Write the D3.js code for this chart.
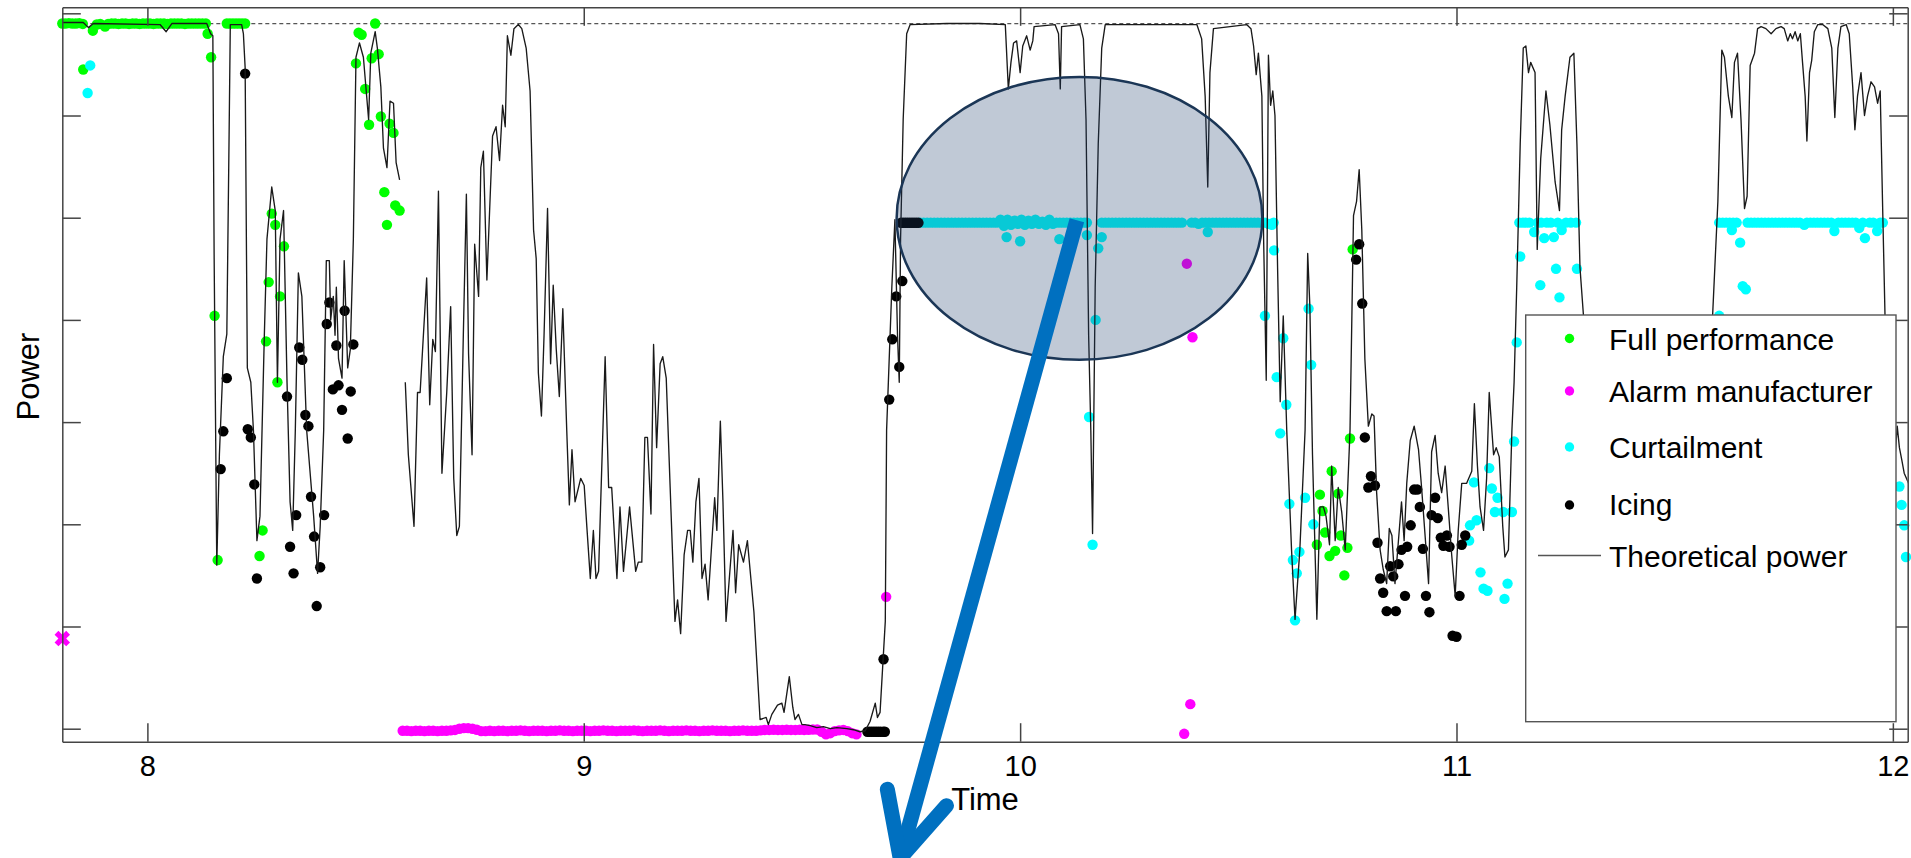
<!DOCTYPE html>
<html>
<head>
<meta charset="utf-8">
<script src="https://cdn.jsdelivr.net/npm/d3@7"></script>
<style>
  body { margin: 0; background: #fff; }
  svg { display: block; }
  text { font-family: "Liberation Sans", Arial, sans-serif; fill: #000; }
</style>
</head>
<body>
<svg id="chart" width="1911" height="858"></svg>
<script>
// time in hours, power in kW (rated 3450 kW)
const xTicks = [8, 9, 10, 11, 12];
const yTicks = [0, 500, 1000, 1500, 2000, 2500, 3000, 3500];
const ratedPower = 3450;

const theoretical = [
  [7.805,3455],[7.853,3455],[7.865,3430],[7.876,3450],[8.029,3445],[8.043,3410],[8.056,3450],[8.136,3450],[8.145,3400],[8.150,3390],
  [8.153,2300],[8.159,800],[8.165,1340],[8.174,1820],[8.182,1930],[8.187,2860],[8.190,3445],[8.216,3445],[8.220,3400],[8.224,3235],
  [8.229,1765],[8.237,1695],[8.243,1460],[8.251,920],[8.258,1040],[8.268,1925],[8.274,2395],[8.285,2650],[8.293,2535],[8.298,1695],
  [8.304,2395],[8.312,2535],[8.320,1695],[8.327,1110],[8.333,970],[8.339,1460],[8.346,2230],[8.354,2115],[8.365,1460],[8.381,1040],
  [8.390,760],[8.396,990],[8.404,1460],[8.410,2290],[8.417,2290],[8.420,2000],[8.426,2115],[8.430,1925],[8.433,2160],[8.438,1810],
  [8.446,1715],[8.451,2290],[8.459,1765],[8.465,1855],[8.472,2395],[8.478,3285],[8.486,3355],[8.495,3285],[8.507,2980],[8.512,3305],
  [8.522,3410],[8.527,3330],[8.535,3140],[8.541,2840],[8.549,2745],[8.556,3070],[8.564,3060],[8.570,2770],[8.578,2685],
  null,
  [8.591,1695],[8.598,1340],[8.611,990],[8.619,1645],[8.625,1645],[8.640,2205],[8.647,1585],[8.654,1905],[8.660,1845],[8.667,2630],
  [8.675,1250],[8.686,1645],[8.695,2065],[8.702,1225],[8.709,945],[8.715,990],[8.724,1925],[8.731,2615],[8.736,1835],[8.744,1340],
  [8.750,2370],[8.759,2115],[8.764,2745],[8.770,2825],[8.778,2195],[8.791,2900],[8.799,2945],[8.807,2780],[8.814,3050],[8.820,2945],
  [8.825,3390],[8.833,3295],[8.840,3425],[8.850,3445],[8.858,3425],[8.868,3330],[8.877,3120],[8.885,2440],[8.891,2300],[8.896,1740],
  [8.903,1530],[8.909,1925],[8.917,2545],[8.924,1785],[8.930,2170],[8.937,1855],[8.944,1625],[8.952,2055],[8.961,1460],[8.967,1095],
  [8.973,1365],[8.980,1110],[8.993,1225],[9.001,1190],[9.007,990],[9.015,735],[9.022,970],[9.028,735],[9.034,770],[9.049,1820],
  [9.057,1180],[9.064,1180],[9.076,735],[9.083,1085],[9.091,770],[9.105,1085],[9.119,770],[9.125,815],[9.133,815],[9.140,1425],
  [9.146,1425],[9.154,1050],[9.160,1880],[9.167,1375],[9.175,1785],[9.181,1820],[9.189,1715],[9.198,1180],[9.209,525],[9.215,630],
  [9.222,465],[9.230,850],[9.238,970],[9.244,970],[9.250,815],[9.257,1110],[9.264,1225],[9.271,735],[9.278,805],[9.285,630],
  [9.300,1130],[9.305,970],[9.313,1505],[9.319,1110],[9.326,525],[9.342,970],[9.348,665],[9.355,900],[9.366,815],[9.375,920],
  [9.390,570],[9.404,45],[9.418,55],[9.423,20],[9.431,70],[9.444,115],[9.454,125],[9.459,80],[9.471,255],[9.479,105],
  [9.484,45],[9.492,70],[9.500,20],[9.507,20],[9.519,15],[9.534,5],[9.549,10],[9.565,0],[9.580,5],[9.603,0],
  [9.618,-5],[9.633,-15],[9.645,-10],[9.656,35],[9.668,125],[9.673,55],[9.679,80],[9.691,525],[9.694,1460],[9.706,2160],
  [9.713,2490],[9.719,1925],[9.723,1695],[9.726,2395],[9.732,2980],[9.740,3400],[9.748,3445],[9.832,3450],[9.908,3450],[9.966,3445],
  [9.973,3130],[9.979,3260],[9.985,3355],[9.992,3365],[10.000,3210],[10.006,3340],[10.015,3390],[10.023,3320],[10.029,3365],[10.032,3435],
  [10.080,3445],[10.088,3400],[10.092,3130],[10.095,3435],[10.137,3445],[10.145,3375],[10.151,2980],[10.157,1925],[10.162,1460],[10.166,955],
  [10.172,2160],[10.179,2860],[10.187,3330],[10.195,3445],[10.405,3445],[10.416,3375],[10.424,3095],[10.430,2650],[10.435,3210],[10.443,3425],
  [10.519,3445],[10.529,3425],[10.535,3340],[10.541,3200],[10.546,3305],[10.554,3095],[10.558,2395],[10.564,1705],[10.569,3295],[10.574,3050],
  [10.579,3120],[10.584,3000],[10.590,2255],[10.596,1600],[10.603,2020],[10.611,1460],[10.622,875],[10.630,535],[10.641,875],[10.653,1460],
  [10.659,2325],[10.664,2065],[10.670,1340],[10.680,535],[10.687,1085],[10.695,1085],[10.701,1040],[10.709,900],[10.714,1285],[10.722,920],
  [10.729,1180],[10.737,1060],[10.745,875],[10.756,1460],[10.764,2510],[10.771,2580],[10.777,2735],[10.783,2440],[10.790,1810],[10.798,1480],
  [10.806,1540],[10.811,1530],[10.817,1155],[10.825,875],[10.832,780],[10.840,710],[10.846,980],[10.852,945],[10.859,710],[10.864,840],
  [10.874,1110],[10.880,920],[10.886,1200],[10.894,1410],[10.903,1480],[10.913,1365],[10.920,1180],[10.928,945],[10.936,710],[10.943,1355],
  [10.951,1435],[10.958,1250],[10.966,1155],[10.974,1285],[10.981,1085],[10.989,850],[10.997,650],[11.004,970],[11.012,1200],[11.023,1200],
  [11.035,1260],[11.041,1590],[11.048,1285],[11.054,1085],[11.062,970],[11.069,1225],[11.075,1645],[11.085,1340],[11.091,1375],[11.098,1330],
  [11.106,990],[11.111,840],[11.119,875],[11.127,1460],[11.132,1695],[11.138,2160],[11.146,2860],[11.153,3330],[11.159,3340],[11.165,3210],
  [11.170,3260],[11.180,3210],[11.185,2345],[11.193,2790],[11.205,3120],[11.214,2955],[11.226,2675],[11.236,2535],[11.241,2930],[11.249,3095],
  [11.260,3285],[11.269,3305],[11.276,2860],[11.283,2255],[11.291,2020],[11.310,1500],[11.350,900],[11.400,1300],[11.450,800],[11.500,1200],
  [11.550,1600],[11.587,2025],[11.599,2580],[11.608,3320],[11.614,3285],[11.623,3095],[11.631,2990],[11.637,3260],[11.644,3305],[11.652,2980],
  [11.660,2545],[11.666,2605],[11.673,3245],[11.683,3305],[11.690,3425],[11.698,3435],[11.709,3425],[11.721,3400],[11.732,3425],[11.744,3435],
  [11.751,3425],[11.759,3365],[11.765,3400],[11.770,3375],[11.776,3410],[11.782,3365],[11.788,3400],[11.793,3260],[11.799,3095],[11.803,2875],
  [11.809,3210],[11.814,3270],[11.820,3410],[11.828,3445],[11.839,3445],[11.851,3425],[11.860,3330],[11.867,2990],[11.874,3330],[11.881,3435],
  [11.893,3445],[11.900,3400],[11.908,3140],[11.913,2930],[11.919,3095],[11.927,3210],[11.935,3000],[11.942,3095],[11.950,3165],[11.958,3140],
  [11.965,3060],[11.971,3120],[11.977,2510],[11.982,2020],[11.995,1500],[12.004,1300],[12.010,1480],[12.015,1375],[12.020,1320],[12.026,1250],
  [12.033,1215],[12.040,1180]
];

const fullPerformance = [
  [7.805,3450],[7.812,3450],[7.820,3452],[7.828,3450],[7.836,3450],[7.844,3452],[7.852,3448],[7.875,3415],[7.884,3445],[7.892,3448],
  [7.903,3435],[7.910,3448],[7.918,3450],[7.926,3450],[7.934,3448],[7.942,3450],[7.950,3450],[7.958,3448],[7.966,3450],[7.974,3450],
  [7.982,3448],[7.990,3450],[7.998,3450],[8.006,3450],[8.014,3448],[8.022,3450],[8.030,3450],[8.038,3450],[8.046,3448],[8.054,3450],
  [8.062,3450],[8.070,3450],[8.078,3450],[8.086,3448],[8.094,3450],[8.102,3450],[8.110,3450],[8.118,3450],[8.126,3450],[8.134,3450],
  [8.138,3400],[8.146,3285],[7.853,3225],
  [8.182,3450],[8.189,3450],[8.196,3450],[8.203,3450],[8.210,3450],[8.217,3450],[8.224,3450],
  [8.154,2020],[8.161,825],[8.257,845],[8.264,970],[8.272,1895],[8.278,2185],[8.285,2520],[8.293,2465],[8.298,1695],[8.304,2115],
  [8.313,2360],[8.478,3255],[8.484,3405],[8.491,3395],[8.499,3130],[8.508,2955],[8.514,3280],[8.522,3450],[8.530,3300],[8.535,2995],
  [8.555,2960],[8.564,2915],[8.543,2625],[8.568,2560],[8.578,2535],[8.549,2465],
  [10.762,2345],[10.756,1420],[10.687,1145],[10.693,1065],[10.699,960],[10.680,900],[10.714,1260],[10.729,1150],[10.735,945],[10.750,885],
  [10.743,750],[10.709,845],[10.722,870]
];

const alarmManufacturer = [
  [8.585,-10],[8.595,-10],[8.605,-12],[8.615,-10],[8.625,-10],[8.635,-12],[8.645,-10],[8.655,-10],[8.665,-12],[8.675,-10],
  [8.685,-10],[8.695,-8],[8.705,-6],[8.715,0],[8.725,3],[8.735,3],[8.745,0],[8.755,-5],[8.765,-12],[8.775,-12],
  [8.785,-10],[8.795,-12],[8.805,-10],[8.815,-10],[8.825,-12],[8.835,-10],[8.845,-10],[8.855,-8],[8.865,-10],[8.875,-12],
  [8.885,-10],[8.895,-10],[8.905,-10],[8.915,-12],[8.925,-10],[8.935,-10],[8.945,-8],[8.955,-10],[8.965,-10],[8.975,-12],
  [8.985,-10],[8.995,-10],[9.005,-10],[9.015,-12],[9.025,-10],[9.035,-10],[9.045,-8],[9.055,-10],[9.065,-10],[9.075,-12],
  [9.085,-10],[9.095,-10],[9.105,-10],[9.115,-8],[9.125,-10],[9.135,-12],[9.145,-10],[9.155,-10],[9.165,-10],[9.175,-8],
  [9.185,-10],[9.195,-12],[9.205,-10],[9.215,-10],[9.225,-10],[9.235,-8],[9.245,-10],[9.255,-10],[9.265,-12],[9.275,-10],
  [9.285,-10],[9.295,-8],[9.305,-10],[9.315,-10],[9.325,-10],[9.335,-12],[9.345,-10],[9.355,-10],[9.365,-8],[9.375,-10],
  [9.385,-10],[9.395,-10],[9.405,-8],[9.415,-6],[9.425,-6],[9.435,-5],[9.445,-6],[9.455,-6],[9.465,-5],[9.475,-6],
  [9.485,-6],[9.495,-5],[9.505,-6],[9.515,-5],[9.525,-4],[9.535,-4],[9.545,-15],[9.555,-28],[9.565,-22],[9.575,-12],
  [9.585,-8],[9.595,-6],[9.605,-12],[9.615,-22],[9.625,-28],
  [9.693,645],[10.382,2275],[10.395,1915],[10.390,120],[10.376,-25]
];
const alarmCross = [[7.805,441]];

const curtailment = [
  [7.869,3245],[7.863,3110],
  [9.771,2476],[9.779,2476],[9.787,2476],[9.795,2476],[9.803,2476],[9.811,2476],[9.819,2476],[9.827,2476],[9.835,2476],[9.843,2476],
  [9.851,2476],[9.859,2476],[9.867,2476],[9.875,2476],[9.883,2476],[9.891,2476],[9.899,2476],[9.907,2476],[9.915,2476],[9.923,2476],
  [9.931,2476],[9.939,2476],[9.947,2476],[9.955,2490],[9.963,2460],[9.971,2490],[9.979,2465],[9.987,2485],[9.995,2470],[10.003,2490],
  [10.011,2465],[10.019,2485],[10.027,2470],[10.035,2490],[10.043,2470],[10.051,2480],[10.059,2465],[10.067,2490],[10.075,2470],[10.083,2476],
  [10.091,2476],[10.099,2476],[10.107,2476],[10.115,2476],[10.123,2476],[10.131,2476],[10.139,2476],[10.147,2476],[10.153,2476],
  [10.187,2476],[10.195,2476],[10.203,2476],[10.211,2476],[10.219,2476],[10.227,2476],[10.235,2476],[10.243,2476],[10.251,2476],[10.259,2476],
  [10.267,2476],[10.275,2476],[10.283,2476],[10.291,2476],[10.299,2476],[10.307,2476],[10.315,2476],[10.323,2476],[10.331,2476],[10.339,2476],
  [10.347,2476],[10.355,2476],[10.363,2476],[10.371,2476],
  [10.393,2476],[10.401,2476],[10.409,2470],[10.417,2476],[10.425,2476],[10.433,2476],[10.441,2476],[10.449,2476],[10.457,2476],[10.465,2476],
  [10.473,2476],[10.481,2476],[10.489,2476],[10.497,2476],[10.505,2476],[10.513,2476],[10.521,2476],[10.529,2476],[10.537,2476],[10.545,2476],
  [10.553,2476],[10.561,2476],[10.569,2470],[10.577,2465],[10.581,2476],
  [9.969,2405],[10.000,2385],[10.090,2395],[10.153,2415],[10.187,2405],[10.179,2350],[10.430,2430],[10.582,2340],[10.561,2020],[10.173,2000],
  [10.158,1525],[10.166,900],
  [10.603,1910],[10.588,1720],[10.610,1585],[10.596,1445],[10.617,1100],[10.625,825],[10.634,760],[10.630,530],[10.640,865],
  [10.653,1130],[10.661,2055],[10.667,1780],[10.672,1000],[11.031,995],[11.029,920],[11.046,1020],[11.040,1205],[11.055,765],[11.062,685],
  [11.071,675],[11.075,1275],[11.081,1175],[11.094,1130],[11.088,1060],[11.107,1060],[11.127,1060],[11.117,710],[11.110,635],[11.132,1405],
  [11.138,1890],[11.146,2310],
  [11.144,2476],[11.152,2476],[11.159,2476],[11.167,2476],[11.178,2430],[11.186,2476],[11.194,2476],[11.201,2400],[11.207,2476],[11.216,2476],
  [11.223,2405],[11.232,2476],[11.241,2440],[11.251,2476],[11.262,2476],[11.274,2476],
  [11.228,2250],[11.276,2250],[11.192,2170],[11.236,2110],
  [11.602,2476],[11.610,2476],[11.618,2476],[11.626,2476],[11.631,2440],[11.634,2476],[11.642,2476],[11.650,2378],[11.656,2165],[11.663,2150],
  [11.667,2476],[11.675,2476],[11.683,2476],[11.691,2476],[11.699,2476],[11.707,2476],[11.715,2476],[11.723,2476],[11.731,2476],[11.739,2476],
  [11.747,2476],[11.755,2476],[11.763,2476],[11.771,2476],[11.779,2476],[11.787,2476],[11.797,2465],[11.803,2476],[11.811,2476],[11.819,2476],
  [11.827,2476],[11.835,2476],[11.843,2476],[11.851,2476],[11.859,2476],[11.866,2435],[11.875,2476],[11.883,2476],[11.891,2476],[11.899,2476],
  [11.907,2476],[11.915,2476],[11.923,2450],[11.931,2476],[11.936,2400],[11.947,2476],[11.955,2476],[11.964,2435],[11.971,2476],[11.977,2476],
  [11.602,2020],
  [12.015,1185],[12.020,1095],[12.026,995],[12.030,840]
];

const icing = [
  [8.224,3205],[8.182,1715],[8.174,1455],[8.168,1270],[8.230,1465],[8.237,1425],[8.245,1195],[8.251,735],[8.320,1625],[8.341,1045],
  [8.327,890],[8.335,760],[8.348,1865],[8.355,1805],[8.362,1535],[8.369,1480],[8.375,1135],[8.382,940],[8.396,790],[8.388,600],
  [8.405,1045],[8.411,1980],[8.417,2085],[8.433,1875],[8.452,2045],[8.472,1880],[8.425,1660],[8.438,1680],[8.446,1560],[8.466,1650],
  [8.459,1420],
  [9.650,-15],[9.655,-15],[9.660,-15],[9.665,-15],[9.670,-15],[9.675,-15],[9.680,-15],[9.686,-15],[9.690,-15],
  [9.687,340],[9.700,1610],[9.723,1770],[9.707,1905],[9.716,2115],[9.730,2190],
  [9.727,2475],[9.732,2475],[9.737,2475],[9.742,2475],[9.747,2475],[9.752,2475],[9.757,2475],[9.762,2475],[9.767,2475],
  [10.777,2370],[10.770,2295],[10.784,2080],[10.790,1425],[10.804,1235],[10.798,1180],[10.813,1190],[10.819,910],[10.825,735],[10.832,665],
  [10.840,575],[10.861,575],[10.848,795],[10.855,745],[10.867,805],[10.874,875],[10.887,890],[10.882,650],[10.895,995],[10.903,1170],
  [10.910,1170],[10.916,1085],[10.923,880],[10.930,650],[10.938,570],[10.943,1045],[10.951,1130],[10.957,1030],[10.964,935],[10.970,895],
  [10.978,945],[10.984,890],[10.991,455],[11.000,450],[11.007,650],[11.012,900],[11.020,945]
];

// highlight ellipse and arrow, in data units
const highlight = { t: 10.136, p: 2497, rt: 0.419, rp: 692 };
const arrowFrom = [10.130, 2488];
const arrowTo = [9.725, -633];

const W = 1911, H = 858;
const plot = { left: 62.3, right: 1907.7, top: 7.3, bottom: 741.7 };

const x = d3.scaleLinear().domain([7.805, 12.034]).range([plot.left, plot.right]);
const y = d3.scaleLinear().domain([-63.6, 3529.4]).range([plot.bottom, plot.top]);

const svg = d3.select("#chart");

svg.append("defs").append("clipPath").attr("id", "plotclip")
  .append("rect")
  .attr("x", plot.left).attr("y", plot.top)
  .attr("width", plot.right - plot.left).attr("height", plot.bottom - plot.top);

// rated power
svg.append("line")
  .attr("x1", plot.left).attr("x2", plot.right)
  .attr("y1", y(ratedPower)).attr("y2", y(ratedPower))
  .attr("stroke", "#555").attr("stroke-width", 1.2)
  .attr("stroke-dasharray", "4,3");

const series = [
  { name: "Full performance", data: fullPerformance, color: "#00ff00" },
  { name: "Alarm manufacturer", data: alarmManufacturer, color: "#ff00ff" },
  { name: "Curtailment", data: curtailment, color: "#00ffff" },
  { name: "Icing", data: icing, color: "#000000" }
];

series.forEach(s => {
  svg.append("g")
    .selectAll("circle")
    .data(s.data)
    .join("circle")
    .attr("cx", d => x(d[0]))
    .attr("cy", d => y(d[1]))
    .attr("r", 5.2)
    .attr("fill", s.color);
});

svg.append("g")
  .selectAll("path")
  .data(alarmCross)
  .join("path")
  .attr("transform", d => `translate(${x(d[0])},${y(d[1])}) rotate(45)`)
  .attr("d", d3.symbol(d3.symbolCross, 150)())
  .attr("fill", "#ff00ff");

const line = d3.line()
  .defined(d => d !== null)
  .x(d => x(d[0]))
  .y(d => y(d[1]));

svg.append("path")
  .datum(theoretical)
  .attr("clip-path", "url(#plotclip)")
  .attr("d", line)
  .attr("fill", "none")
  .attr("stroke", "#1a1a1a")
  .attr("stroke-width", 1.35)
  .attr("stroke-linejoin", "round");

// axes box, ticks inward
const tick = 18.5;
const axisStyle = g => {
  g.selectAll(".domain").attr("stroke", "#444").attr("stroke-width", 1.5);
  g.selectAll(".tick line").attr("stroke", "#444").attr("stroke-width", 1.5);
  g.selectAll("text").attr("font-size", 29).attr("font-family", '"Liberation Sans", Arial, sans-serif').attr("fill", "#000");
};

svg.append("g")
  .attr("transform", `translate(0,${plot.bottom})`)
  .call(d3.axisBottom(x).tickValues(xTicks).tickFormat(d3.format("d")).tickSizeInner(-tick).tickSizeOuter(0).tickPadding(14))
  .call(axisStyle);
svg.append("g")
  .attr("transform", `translate(0,${plot.top})`)
  .call(d3.axisTop(x).tickValues(xTicks).tickFormat("").tickSizeInner(-tick).tickSizeOuter(0))
  .call(axisStyle);
svg.append("g")
  .attr("transform", `translate(${plot.left},0)`)
  .call(d3.axisLeft(y).tickValues(yTicks).tickFormat("").tickSizeInner(-tick).tickSizeOuter(0))
  .call(axisStyle);
svg.append("g")
  .attr("transform", `translate(${plot.right},0)`)
  .call(d3.axisRight(y).tickValues(yTicks).tickFormat("").tickSizeInner(-tick).tickSizeOuter(0))
  .call(axisStyle);

svg.append("text")
  .attr("x", (plot.left + plot.right) / 2)
  .attr("y", 810)
  .attr("text-anchor", "middle")
  .attr("font-size", 31)
  .text("Time");

svg.append("text")
  .attr("transform", `translate(38.5,${(plot.top + plot.bottom) / 2 + 2}) rotate(-90)`)
  .attr("text-anchor", "middle")
  .attr("font-size", 31)
  .text("Power");

// legend
const legend = svg.append("g");
legend.append("rect")
  .attr("x", 1525.7).attr("y", 315)
  .attr("width", 370.3).attr("height", 406.7)
  .attr("fill", "#fff").attr("stroke", "#555").attr("stroke-width", 1.4);

const legendRows = [338.5, 391, 447, 505, 555.5];
const legendBase = [350, 402, 458, 515, 567];
series.forEach((s, i) => {
  legend.append("circle")
    .attr("cx", 1569.5).attr("cy", legendRows[i]).attr("r", 4.7)
    .attr("fill", s.color);
  legend.append("text")
    .attr("x", 1609).attr("y", legendBase[i])
    .attr("font-size", 30)
    .text(s.name);
});
legend.append("line")
  .attr("x1", 1538).attr("x2", 1601)
  .attr("y1", legendRows[4]).attr("y2", legendRows[4])
  .attr("stroke", "#555").attr("stroke-width", 1.4);
legend.append("text")
  .attr("x", 1609).attr("y", legendBase[4])
  .attr("font-size", 30)
  .text("Theoretical power");

// highlight ellipse
const ecx = x(highlight.t), ecy = y(highlight.p);
svg.append("ellipse")
  .attr("cx", ecx).attr("cy", ecy)
  .attr("rx", x(highlight.t + highlight.rt) - ecx)
  .attr("ry", y(highlight.p - highlight.rp) - ecy)
  .attr("fill", "#1e3e6d").attr("fill-opacity", 0.28)
  .attr("stroke", "#1b3656").attr("stroke-width", 2.5);

// arrow
const a0 = [x(arrowFrom[0]), y(arrowFrom[1])];
const a1 = [x(arrowTo[0]), y(arrowTo[1])];
const back = Math.atan2(a0[1] - a1[1], a0[0] - a1[0]);
const armLen = 70, armAng = 26 * Math.PI / 180;
const armA = [a1[0] + armLen * Math.cos(back - armAng), a1[1] + armLen * Math.sin(back - armAng)];
const armB = [a1[0] + armLen * Math.cos(back + armAng), a1[1] + armLen * Math.sin(back + armAng)];

svg.append("path")
  .attr("d", d3.line()([a0, a1]))
  .attr("stroke", "#0070c0").attr("stroke-width", 15).attr("fill", "none");
svg.append("path")
  .attr("d", d3.line()([armA, a1, armB]))
  .attr("stroke", "#0070c0").attr("stroke-width", 15).attr("fill", "none")
  .attr("stroke-linecap", "round").attr("stroke-linejoin", "round");
</script>
</body>
</html>
